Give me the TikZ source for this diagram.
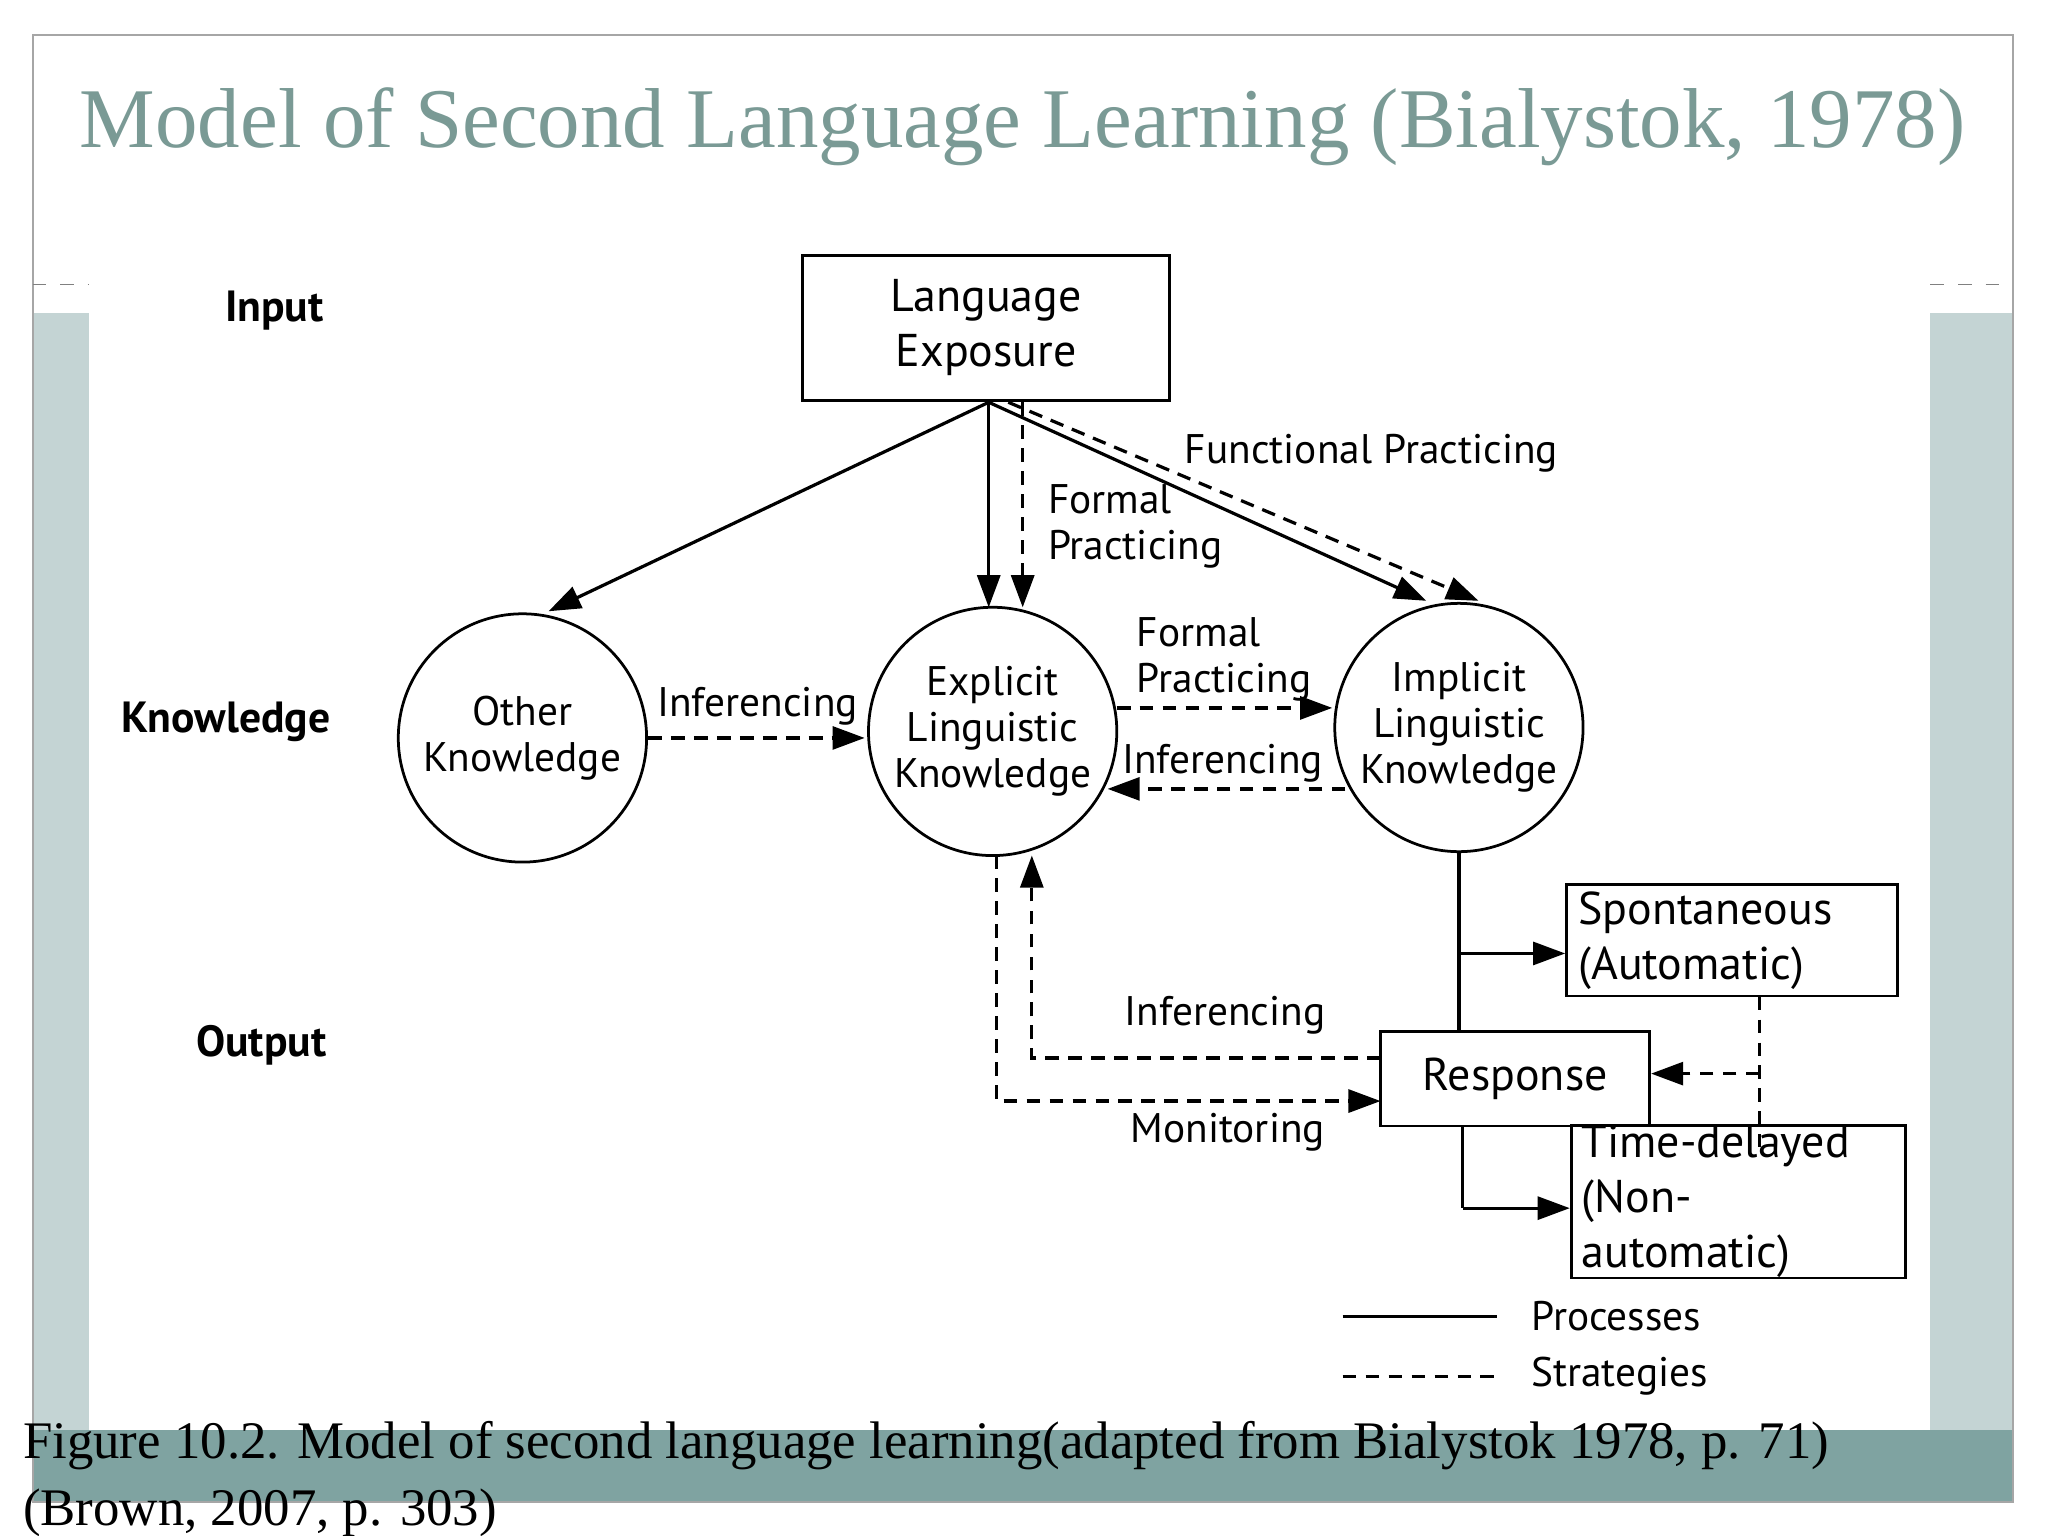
\documentclass[tikz,border=0pt]{standalone}
\usepackage{fontspec}
\setmainfont{Liberation Serif}
\newfontfamily\dfont{PT Sans}
\usetikzlibrary{arrows.meta}
\definecolor{ttl}{HTML}{7A9A95}
\definecolor{band}{HTML}{7FA3A1}
\definecolor{side}{HTML}{C4D4D4}
\begin{document}
\begin{tikzpicture}[x=0.01cm,y=-0.01cm,
  lab/.style={font=\dfont\fontsize{9}{10}\selectfont},
  bl/.style={font=\dfont\bfseries\fontsize{9.5}{11}\selectfont},
  circ/.style={draw,circle,minimum size=1.9cm,inner sep=0pt,align=center,font=\dfont\fontsize{9}{10}\selectfont,line width=0.6pt},
  bx/.style={draw,align=left,inner sep=0pt,font=\dfont\fontsize{10}{12}\selectfont,line width=0.6pt},
  ar/.style={-{Triangle[length=7pt,width=5pt]},line width=0.7pt},
  da/.style={ar,dashed,dash pattern=on 3pt off 2pt},
  ln/.style={line width=0.7pt},
  dl/.style={ln,dashed,dash pattern=on 3pt off 2pt}]
\useasboundingbox (0,0) rectangle (1568,1176);
\fill[white] (0,0) rectangle (1568,1176);
\fill[side] (25,240) rectangle (68,1095);
\fill[side] (1478,240) rectangle (1541,1095);
\fill[band] (25,1095) rectangle (1541,1150);
\draw[gray!70] (25,27) rectangle (1541,1150);
\draw[gray,dashed,line width=0.3pt] (25,218) -- (68,218) (1478,218) -- (1541,218);
\node[text=ttl,font=\fontsize{18.5}{20}\selectfont] (title) at (783,97) {Model of Second Language Learning (Bialystok, 1978)};
\node[bl] (inp) at (210,238) {Input};
\node[bl] (knw) at (173,553) {Knowledge};
\node[bl] (outp) at (200,800) {Output};
\node[bx,align=center,minimum width=2.81cm,minimum height=1.11cm] (le) at (755,251) {Language\\Exposure};
\node[circ] (ok) at (400,565) {Other\\Knowledge};
\node[circ] (ek) at (760,560) {Explicit\\Linguistic\\Knowledge};
\node[circ] (ik) at (1117,557) {Implicit\\Linguistic\\Knowledge};
\node[bx,minimum width=2.53cm,minimum height=0.85cm,text width=2.35cm] (sp) at (1326,720) {Spontaneous\\(Automatic)};
\node[bx,minimum width=2.06cm,minimum height=0.72cm,align=center] (re) at (1160,826) {Response};
\node[bx,minimum width=2.56cm,minimum height=0.85cm,text width=2.4cm] (td) at (1331,920) {Time-delayed\\(Non-automatic)};
% arrows from LE
\coordinate (lb) at (757,308);
\draw[ar] (lb) -- (420,468);
\draw[ar] (lb) -- (757,465);
\draw[ar] (lb) -- (1092,460);
\draw[da] (783,308) -- (783,465);
\draw[da] (772,308) -- (1132,460);
\node[lab,align=left,anchor=west] (fp1) at (790,403) {Formal\\Practicing};
\node[lab] (fup) at (1050,347) {Functional Practicing};
% horizontal
\draw[da] (ok.east |- 0,565) -- (662,565);
\node[lab] (inf1) at (580,541) {Inferencing};
\draw[da] (855,542) -- (1020,542);
\node[lab,align=left,anchor=west] (fp2) at (858,505) {Formal\\Practicing};
\draw[da] (1030,604) -- (848,604);
\node[lab] (inf2) at (936,584) {Inferencing};
% implicit to response
\draw[ln] (ik.south) -- (1117,790);
\draw[ar] (1117,730) -- (sp.west |- 0,730);
\draw[ln] (1120,862) -- (1120,925);
\draw[ar] (1120,925) -- (td.west |- 0,925);
\draw[dl] (1347,763) -- (1347,878);
\draw[da] (1347,822) -- (re.east |- 0,822);
\draw[da] (1057,810) -- (790,810) -- (790,655);
\node[lab] (inf3) at (938,777) {Inferencing};
\draw[da] (763,655) -- (763,843) -- (1057,843);
\node[lab] (mon) at (940,867) {Monitoring};
% legend
\coordinate (l1a) at (1028,1008); \coordinate (l1b) at (1146,1008);
\coordinate (l2a) at (1028,1054); \coordinate (l2b) at (1146,1054);
\draw[ln] (l1a) -- (l1b);
\draw[dl] (l2a) -- (l2b);
\node[lab,anchor=west] (pr) at (1160,1008) {Processes};
\node[lab,anchor=west] (st) at (1160,1054) {Strategies};
% caption
\node[anchor=west,inner sep=0pt,font=\fontsize{11.5}{14}\selectfont] (c1) at (17,1107) {Figure 10.2. Model of second language learning(adapted from Bialystok 1978, p. 71)};
\node[anchor=west,inner sep=0pt,font=\fontsize{11.5}{14}\selectfont] (c2) at (17,1158) {(Brown, 2007, p. 303)};
\end{tikzpicture}
\end{document}
